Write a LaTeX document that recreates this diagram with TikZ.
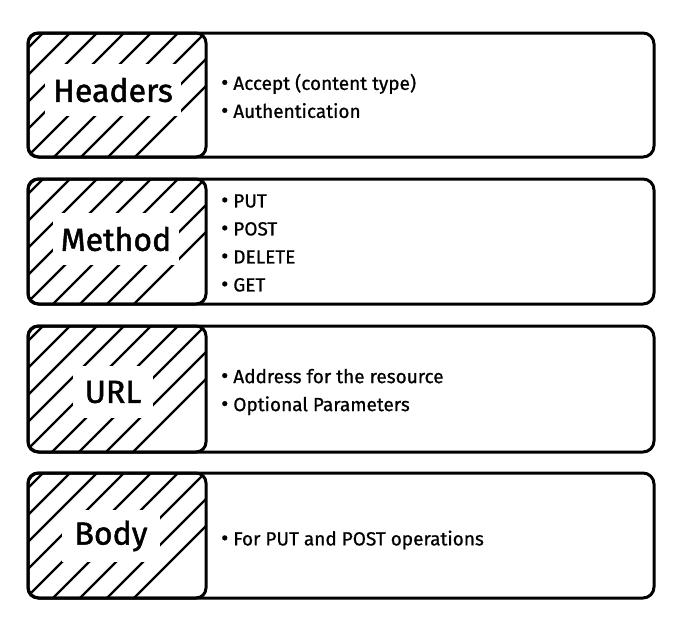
\documentclass[tikz,border=0pt]{standalone}
\usepackage{fontspec}
\setmainfont{Fira Sans}
\newfontfamily\titlefont[FakeBold=1.5]{Fira Sans}
\newfontfamily\itemfont[FakeBold=0.8]{Fira Sans}
\newcommand{\bul}{{\fontsize{22}{28}\selectfont•}\hspace{5pt}}
\begin{document}
\begin{tikzpicture}[x=1pt,y=-1pt,
  outerbox/.style={draw=black,line width=3pt,rounded corners=11pt,fill=white},
  hatchbox/.style={draw=black,line width=3pt,rounded corners=10pt},
  hatchline/.style={line width=2.2pt,line cap=round},
  title/.style={fill=white,inner xsep=8pt,minimum height=52pt,font=\titlefont\fontsize{32}{36}\selectfont},
  items/.style={anchor=west,align=left,inner sep=0pt,font=\itemfont\fontsize{19}{28}\selectfont}]
\useasboundingbox (0,0) rectangle (676,619);
% rows: top, bottom
\foreach \t/\b in {33/157,179/304,326/452,473/598}{
  \draw[outerbox] (28,\t) rectangle (654,\b);
  \begin{scope}
    \clip[rounded corners=10pt] (28,\t) rectangle (206,\b);
    \foreach \i in {-6,...,8}{
      \draw[hatchline] ({43+\i*27},\t) -- ++(-150,150);
    }
  \end{scope}
  \draw[hatchbox] (28,\t) rectangle (206,\b);
}
\node[title] (headers) at (113,90) {Headers};
\node[title] (method) at (116,239) {Method};
\node[title,inner xsep=12pt] (url) at (113,392) {URL};
\node[title,inner xsep=12pt] (body) at (111,536) {Body};
\node[items] (hitems) at (221,96) {\bul Accept (content type)\\\bul Authentication};
\node[items] (mitems) at (221,243) {\bul PUT\\\bul POST\\\bul DELETE\\\bul GET};
\node[items] (uitems) at (221,392) {\bul Address for the resource\\\bul Optional Parameters};
\node[items] (bitems) at (221,540) {\bul For PUT and POST operations};
\end{tikzpicture}
\end{document}
